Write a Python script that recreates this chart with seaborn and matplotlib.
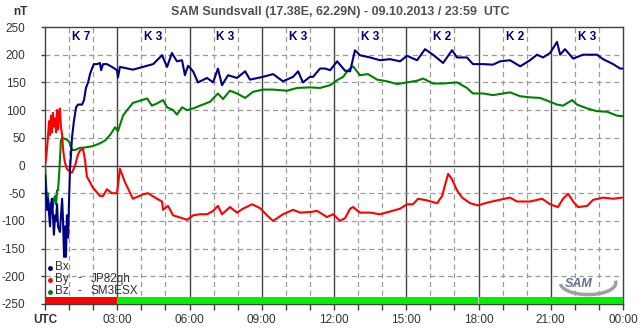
import matplotlib
matplotlib.use("Agg")
import matplotlib.pyplot as plt
import seaborn as sns
import pandas as pd
from matplotlib.patches import Arc

# ---------------- data (hours UTC, nT) ----------------
bx_t = [0.00, 0.04, 0.08, 0.12, 0.21, 0.25, 0.29, 0.33, 0.37, 0.42, 0.46, 0.50, 0.54, 0.62, 0.71,
        0.75, 0.79, 0.83, 0.87, 0.91, 0.96, 1.00, 1.04, 1.08, 1.12, 1.20, 1.29, 1.37, 1.54, 1.62,
        1.70, 1.79, 1.87, 1.95, 2.03, 2.16, 2.28, 2.33, 2.41, 2.57, 2.78, 2.99, 3.03, 3.11, 3.65,
        4.07, 4.49, 4.86, 5.07, 5.27, 5.48, 5.69, 5.81, 5.94, 6.15, 6.35, 6.73, 6.98, 7.18, 7.35,
        7.60, 7.97, 8.31, 8.51, 9.05, 9.47, 9.88, 10.30, 10.51, 10.71, 11.00, 11.13, 11.42, 11.63,
        11.84, 12.13, 12.46, 12.67, 12.87, 13.08, 13.50, 13.91, 14.33, 14.74, 15.03, 15.45, 15.78,
        16.11, 16.53, 16.90, 17.11, 17.52, 17.77, 18.19, 18.60, 18.90, 19.31, 19.73, 20.14, 20.43,
        20.68, 20.97, 21.26, 21.39, 21.59, 21.93, 22.34, 22.92, 23.17, 23.59, 23.88, 24.00]
bx_v = [-18, -50, -80, -60, -110, -70, -60, -90, -125, -90, -100, -70, -110, -120, -60,
        -100, -165, -110, -165, -90, -130, -60, -5, 20, 50, 80, 105, 110, 110, 118,
        140, 150, 165, 175, 183, 183, 185, 172, 183, 183, 178, 172, 159, 178, 173,
        178, 183, 199, 178, 203, 188, 190, 163, 180, 170, 150, 158, 150, 175, 145,
        163, 158, 170, 155, 160, 165, 152, 160, 170, 150, 160, 160, 175, 175,
        172, 188, 171, 170, 208, 199, 195, 190, 192, 188, 198, 190, 210,
        200, 185, 208, 195, 195, 183, 183, 182, 188, 190, 179, 190, 200,
        195, 203, 223, 200, 210, 193, 200, 200, 192, 183, 175, 175]

by_t = [0.00, 0.04, 0.08, 0.12, 0.17, 0.21, 0.25, 0.29, 0.33, 0.37, 0.42, 0.46, 0.50, 0.54, 0.58,
        0.62, 0.66, 0.71, 0.75, 0.79, 0.83, 0.91, 1.00, 1.12, 1.25, 1.37, 1.45, 1.58, 1.66, 1.74,
        1.99, 2.28, 2.41, 2.57, 2.78, 2.99, 3.11, 3.32, 3.65, 4.07, 4.28, 4.57, 4.86, 4.90, 5.11,
        5.32, 5.69, 5.90, 6.15, 6.44, 6.73, 6.98, 7.18, 7.35, 7.68, 7.97, 8.22, 8.60, 8.93, 9.22,
        9.47, 9.88, 10.30, 10.59, 11.00, 11.30, 11.71, 11.96, 12.25, 12.46, 12.67, 12.79, 13.08,
        13.50, 13.91, 14.33, 14.74, 15.03, 15.28, 15.49, 15.86, 16.28, 16.49, 16.61, 16.74, 16.90,
        17.11, 17.32, 17.65, 17.98, 18.36, 18.77, 19.31, 19.60, 20.14, 20.64, 20.97, 21.30, 21.51,
        21.72, 21.93, 22.13, 22.51, 22.76, 23.17, 23.59, 23.96]
by_v = [0, 10, 30, 50, 80, 55, 90, 60, 95, 70, 85, 60, 100, 65, 95,
        103, 70, 55, 30, 15, 5, -6, -10, -13, 0, 20, 27, 30, 10, -20,
        -40, -55, -55, -43, -50, -50, -6, -30, -60, -52, -50, -58, -65, -80, -73,
        -90, -95, -98, -90, -88, -88, -82, -73, -88, -75, -85, -78, -70, -77, -90,
        -100, -88, -80, -85, -84, -82, -93, -88, -100, -95, -78, -75, -85,
        -85, -88, -83, -78, -70, -70, -60, -63, -68, -55, -35, -15, -25,
        -45, -58, -68, -72, -67, -63, -58, -65, -65, -60, -70, -75, -60,
        -51, -65, -75, -73, -62, -58, -60, -58]

bz_t = [0.00, 0.04, 0.08, 0.12, 0.17, 0.21, 0.25, 0.29, 0.33, 0.37, 0.42, 0.46, 0.50, 0.54, 0.58,
        0.62, 0.66, 0.71, 0.83, 0.96, 1.04, 1.12, 1.25, 1.45, 1.58, 1.99, 2.28, 2.49, 2.70, 2.91,
        3.03, 3.24, 3.41, 3.65, 3.95, 4.24, 4.44, 4.65, 4.90, 5.07, 5.32, 5.48, 5.69, 5.90, 6.15,
        6.44, 6.85, 7.18, 7.39, 7.68, 7.97, 8.31, 8.64, 9.05, 9.47, 10.05, 10.47, 11.00, 11.42,
        11.84, 12.13, 12.38, 12.58, 12.79, 13.08, 13.41, 13.79, 14.20, 14.62, 15.03, 15.45, 15.70,
        16.11, 16.53, 17.11, 17.52, 17.77, 18.19, 18.60, 19.02, 19.31, 19.73, 20.14, 20.56, 20.97,
        21.26, 21.51, 21.89, 22.09, 22.51, 22.92, 23.34, 23.75, 24.00]
bz_v = [0, -30, -60, -50, -85, -70, -85, -60, -75, -60, -55, -70, -45, -45, -20,
        10, 45, 50, 48, 45, 40, 28, 28, 32, 32, 35, 40, 45, 55, 69,
        62, 90, 100, 113, 117, 121, 108, 112, 118, 105, 100, 92, 105, 100, 103,
        108, 115, 130, 120, 135, 130, 122, 133, 137, 137, 135, 140, 141, 140,
        145, 154, 160, 172, 179, 163, 165, 155, 152, 147, 150, 153, 157,
        148, 148, 150, 140, 130, 130, 127, 130, 132, 125, 123, 122, 115,
        110, 108, 118, 110, 103, 98, 97, 90, 89]

k_hours = [1.5, 4.5, 7.5, 10.5, 13.5, 16.5, 19.5, 22.5]
k_values = ["K 7", "K 3", "K 3", "K 3", "K 3", "K 2", "K 2", "K 3"]
x_labels = ["UTC", "03:00", "06:00", "09:00", "12:00", "15:00", "18:00", "21:00", "00:00"]
y_ticks = [250, 200, 150, 100, 50, 0, -50, -100, -150, -200, -250]

# ---------------- figure ----------------
sns.set_theme(style="white")
plt.rcParams["font.family"] = ["Liberation Sans", "DejaVu Sans"]

fig = plt.figure(figsize=(6.43, 3.31), dpi=100)
ax = fig.add_axes([45 / 643, 27 / 331, 578 / 643, 277 / 331])
ax.set_facecolor("white")

df_x = pd.DataFrame({"t": bx_t, "v": bx_v})
df_y = pd.DataFrame({"t": by_t, "v": by_v})
df_z = pd.DataFrame({"t": bz_t, "v": bz_v})

# grid
for h in range(1, 24):
    if h % 3 == 0:
        ax.axvline(h, color="#404040", lw=1.0, zorder=1)
    else:
        ax.axvline(h, color="#9a9a9a", lw=0.9, ls=(0, (4, 3)), zorder=1)
for yv in y_ticks[1:-1]:
    if yv == 0:
        ax.axhline(0, color="#404040", lw=1.0, zorder=1)
    else:
        ax.axhline(yv, color="#9a9a9a", lw=0.9, ls=(0, (4, 3)), zorder=1)

sns.lineplot(data=df_z, x="t", y="v", ax=ax, color="#008000", lw=1.5, zorder=3)
sns.lineplot(data=df_y, x="t", y="v", ax=ax, color="#ff0000", lw=1.5, zorder=4)
sns.lineplot(data=df_x, x="t", y="v", ax=ax, color="#000080", lw=1.5, zorder=5)

# status bar
ax.fill_between([0, 3], -250, -238, color="#ff0000", lw=0, zorder=6)
ax.fill_between([3, 17.97], -250, -238, color="#00ee00", lw=0, zorder=6)
ax.fill_between([18.03, 24], -250, -238, color="#00ee00", lw=0, zorder=6)

ax.set_xlim(0, 24)
ax.set_ylim(-250, 250)
ax.set_xlabel("")
ax.set_ylabel("")

ax.set_xticks(range(0, 25))
ax.set_xticklabels([x_labels[i // 3] if i % 3 == 0 else "" for i in range(25)],
                   fontsize=8.5, color="#333333")
ax.get_xticklabels()[0].set_fontweight("bold")
ax.set_yticks(y_ticks)
ax.set_yticklabels([str(v) for v in y_ticks], fontsize=8.5, color="#333333")
ax.tick_params(axis="x", direction="out", length=4, width=1, color="#404040", pad=3, bottom=True)
ax.tick_params(axis="y", direction="out", length=3, width=1, color="#404040", pad=11, left=True)

for s in ax.spines.values():
    s.set_color("#404040")
    s.set_linewidth(1.0)
    s.set_visible(True)

# K indices
for h, k in zip(k_hours, k_values):
    ax.text(h, 232, k, color="#000080", fontsize=8.5, fontweight="bold",
            ha="center", va="center", zorder=7)

# legend-like labels
leg = [("Bx", "", "", "#000080", -183),
       ("By", "-", "JP82qh", "#ff0000", -204),
       ("Bz", "-", "SM3ESX", "#008000", -226)]
for name, dash, call, col, yv in leg:
    ax.plot([0.2], [yv - 2], marker="o", ms=2.5, color=col, zorder=8)
    ax.text(0.42, yv, name, fontsize=8.5, color="#333333", va="center", zorder=8)
    if dash:
        ax.text(1.35, yv, dash, fontsize=8.5, color="#333333", va="center", zorder=8)
        ax.text(1.9, yv, call, fontsize=8.5, color="#333333", va="center", zorder=8)

# SAM logo approximation
ax.add_patch(Arc((22.55, -212), 2.3, 42, theta1=-120, theta2=75, color="#a0a0a0", lw=2.5, zorder=7))
ax.text(22.15, -214, "SAM", fontsize=9, fontstyle="italic", fontweight="bold",
        color="#6a7090", ha="center", va="center", zorder=8)

# titles
fig.text(340 / 643, 1 - 12 / 331, "SAM Sundsvall (17.38E, 62.29N) - 09.10.2013 / 23:59  UTC",
         ha="center", va="center", fontsize=9, fontweight="bold", color="#505050")
fig.text(20 / 643, 1 - 12 / 331, "nT", ha="center", va="center", fontsize=8.5,
         fontweight="bold", color="#333333")

fig.savefig("out.png", dpi=100, facecolor="white")
